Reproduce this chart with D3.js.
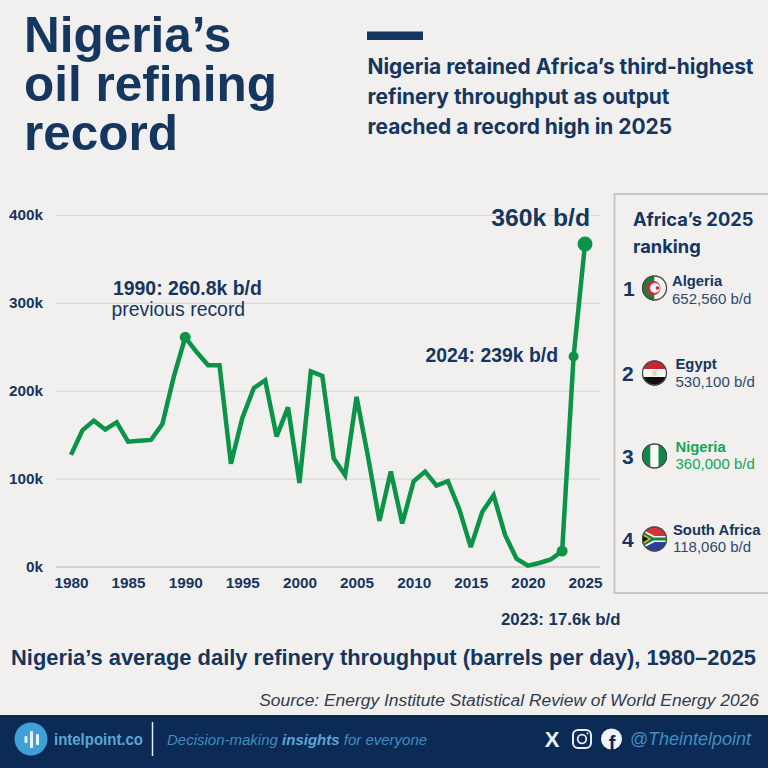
<!DOCTYPE html>
<html>
<head>
<meta charset="utf-8">
<script src="https://cdn.jsdelivr.net/npm/d3@7"></script>
<style>
html,body{margin:0;padding:0;background:#f2f0ee;}
svg{display:block;}
text{font-family:"Liberation Sans",Arial,sans-serif;}
</style>
</head>
<body>
<div id="chart"></div>
<script>
// Nigeria refinery throughput
const years = d3.range(1980, 2026);
const throughput = [127,155,166,156,164,142,143,144,162,216,260.8,244,229,229,117,169,203,212,148,181,95,222,217,123,104,193,125,52,108,49,97,108,92,97,65,22,62,81,36,9,1,4,8,17.6,239,367];
const yTicks = [0,100,200,300,400];
const xTicks = [1980,1985,1990,1995,2000,2005,2010,2015,2020,2025];
const titleLines = ['Nigeria’s','oil refining','record'];
const subtitleLines = ['Nigeria retained Africa’s third-highest','refinery throughput as output','reached a record high in 2025'];
const rankCountries = ['Algeria','Egypt','Nigeria','South Africa'];
const rankValues = ['652,560 b/d','530,100 b/d','360,000 b/d','118,060 b/d'];

const NAVY = '#14365f';
const GREEN = '#0b9347';
const BG = '#f2f0ee';

const svg = d3.select('#chart').append('svg').attr('width', 768).attr('height', 768);
svg.append('rect').attr('width', 768).attr('height', 768).attr('fill', BG);
const defs = svg.append('defs');

// Header
svg.append('g').selectAll('text').data(titleLines).join('text')
    .attr('x', 24).attr('y', (d, i) => 52 + i * 48.75)
    .attr('font-size', 49.5).attr('font-weight', 700).attr('fill', NAVY)
    .text(d => d);
svg.append('rect').attr('x', 367).attr('y', 31.5).attr('width', 56).attr('height', 8.5).attr('fill', NAVY);
svg.append('g').selectAll('text').data(subtitleLines).join('text')
    .attr('x', 367.5).attr('y', (d, i) => 74 + i * 30)
    .attr('font-size', 20.9).attr('font-weight', 700).attr('fill', NAVY)
    .style('font-family', 'Inter, sans-serif')
    .text(d => d);

// Scales
const x = d3.scaleLinear().domain([1980, 2025]).range([71, 585]);
const y = d3.scaleLinear().domain([0, 400]).range([566.5, 215]);
const value = yr => throughput[years.indexOf(yr)];

// Grid and axes
const yAxis = d3.axisLeft(y).tickValues(yTicks).tickFormat(d => d + 'k').tickSize(-544).tickPadding(13);
const yG = svg.append('g').attr('transform', 'translate(56,0)').call(yAxis);
yG.select('.domain').remove();
yG.selectAll('.tick line').attr('stroke', d => d === 0 ? '#b5b5b5' : '#d9d8d6').attr('stroke-width', 1.2);
yG.selectAll('.tick text').attr('font-size', 15.3).attr('font-weight', 700).attr('fill', NAVY)
    .style('font-family', '"Liberation Sans",Arial,sans-serif');

const xAxis = d3.axisBottom(x).tickValues(xTicks).tickFormat(d3.format('d')).tickSize(0).tickPadding(11);
const xG = svg.append('g').attr('transform', 'translate(0,566.5)').call(xAxis);
xG.select('.domain').remove();
xG.selectAll('.tick text').attr('font-size', 15.3).attr('font-weight', 700).attr('fill', NAVY)
    .style('font-family', '"Liberation Sans",Arial,sans-serif');

// Line
const line = d3.line().x((d, i) => x(years[i])).y(d => y(d));
svg.append('path').datum(throughput)
    .attr('d', line).attr('fill', 'none').attr('stroke', GREEN)
    .attr('stroke-width', 4.5).attr('stroke-linejoin', 'miter').attr('stroke-miterlimit', 3);

// Highlight points
const highlights = [[1990, 5.5], [2023, 5.5], [2024, 5], [2025, 7.5]];
svg.append('g').selectAll('circle').data(highlights).join('circle')
    .attr('cx', d => x(d[0])).attr('cy', d => y(value(d[0]))).attr('r', d => d[1]).attr('fill', GREEN);

// Annotations
function note(txt, px, py, size, weight, anchor) {
    return svg.append('text').attr('x', px).attr('y', py).attr('font-size', size)
        .attr('font-weight', weight).attr('fill', NAVY).attr('text-anchor', anchor || 'start').text(txt);
}
note('1990: 260.8k b/d', 113, 295, 19.4, 700);
note('previous record', 111.5, 316, 19.4, 400);
note('360k b/d', 590, 226, 24.7, 700, 'end');
note('2024: 239k b/d', 558, 362, 19.4, 700, 'end');
note('2023: 17.6k b/d', 501, 625, 16.8, 700);
note('Nigeria’s average daily refinery throughput (barrels per day), 1980–2025', 11, 665, 21.9, 700);
svg.append('text').attr('x', 759).attr('y', 706).attr('text-anchor', 'end')
    .attr('font-size', 17.4).attr('font-style', 'italic').attr('fill', '#2f3b4c')
    .text('Source: Energy Institute Statistical Review of World Energy 2026');

// Ranking panel
svg.append('path').attr('d', 'M768,194H614.5V593H768').attr('fill', 'none').attr('stroke', '#c9c7c5').attr('stroke-width', 2);
note('Africa’s 2025', 633, 226, 18.3, 700).style('font-family', 'Inter, sans-serif');
note('ranking', 633, 253, 18.3, 700).style('font-family', 'Inter, sans-serif');

// flags are small drawings inside a circle
const FLAGS = {
    Algeria(g) {
        g.append('rect').attr('x', -13).attr('y', -13).attr('width', 13).attr('height', 26).attr('fill', '#1f7a3f');
        g.append('rect').attr('x', 0).attr('y', -13).attr('width', 13).attr('height', 26).attr('fill', '#f4f4f2');
        g.append('circle').attr('cx', -1).attr('r', 7).attr('fill', '#cf2a36');
        g.append('circle').attr('cx', 0.5).attr('r', 5).attr('fill', '#f4f4f2');
        g.append('circle').attr('cx', 3).attr('r', 1.8).attr('fill', '#cf2a36');
    },
    Egypt(g) {
        g.append('rect').attr('x', -13).attr('y', -13).attr('width', 26).attr('height', 9).attr('fill', '#c8252f');
        g.append('rect').attr('x', -13).attr('y', -4).attr('width', 26).attr('height', 8).attr('fill', '#f6f6f4');
        g.append('rect').attr('x', -13).attr('y', 4).attr('width', 26).attr('height', 9).attr('fill', '#111');
        g.append('rect').attr('x', -2).attr('y', -2.5).attr('width', 4).attr('height', 5).attr('fill', '#e3d3a0');
    },
    Nigeria(g) {
        g.append('rect').attr('x', -13).attr('y', -13).attr('width', 9).attr('height', 26).attr('fill', '#0c8a48');
        g.append('rect').attr('x', -4).attr('y', -13).attr('width', 8).attr('height', 26).attr('fill', '#f8f8f6');
        g.append('rect').attr('x', 4).attr('y', -13).attr('width', 9).attr('height', 26).attr('fill', '#0c8a48');
    },
    'South Africa'(g) {
        g.append('rect').attr('x', -13).attr('y', -13).attr('width', 26).attr('height', 13).attr('fill', '#d3343a');
        g.append('rect').attr('x', -13).attr('y', 0).attr('width', 26).attr('height', 13).attr('fill', '#2d3f9c');
        g.append('path').attr('d', 'M-13,-10L0,-3H13V3H0L-13,10Z').attr('fill', '#f4f4f2');
        g.append('path').attr('d', 'M-13,-8L-1,-1.5H13V1.5H-1L-13,8Z').attr('fill', '#16834a');
        g.append('path').attr('d', 'M-13,-6L-3.5,0L-13,6Z').attr('fill', '#e8b92f');
        g.append('path').attr('d', 'M-13,-4L-6,0L-13,4Z').attr('fill', '#111');
    }
};

const rowY = [288, 373, 456, 539];
const nameX = [672, 675.5, 675.5, 673];
const nameDy = [-2, -4, -4, -4];
const valueDy = [16, 14, 13, 13];
rankCountries.forEach((name, i) => {
    const cy = rowY[i];
    const col = name === 'Nigeria' ? '#14a457' : NAVY;
    note(String(i + 1), i === 0 ? 623 : 622, cy + 7.5, 21, 700);
    defs.append('clipPath').attr('id', 'flag' + i).append('circle').attr('r', 12.5);
    const g = svg.append('g').attr('transform', `translate(654.5,${cy})`);
    FLAGS[name](g.append('g').attr('clip-path', `url(#flag${i})`));
    g.append('circle').attr('r', 12).attr('fill', 'none').attr('stroke', '#4a4a48').attr('stroke-width', 1.3);
    svg.append('text').attr('x', nameX[i]).attr('y', cy + nameDy[i]).attr('font-size', 14.8).attr('font-weight', 700).attr('fill', col).text(name);
    svg.append('text').attr('x', nameX[i]).attr('y', cy + valueDy[i]).attr('font-size', 15).attr('fill', name === 'Nigeria' ? '#14a457' : '#2c4a6e').text(rankValues[i]);
});

// Footer
const FOOT = '#0b2a56';
const BLUE = '#3f9fd6';
svg.append('rect').attr('y', 715).attr('width', 768).attr('height', 53).attr('fill', FOOT);
svg.append('circle').attr('cx', 31).attr('cy', 739).attr('r', 16.5).attr('fill', BLUE);
[[24.5, 736, 3, 7], [30, 731, 3, 17], [36, 734, 3, 11]].forEach(b => {
    svg.append('rect').attr('x', b[0]).attr('y', b[1]).attr('width', b[2]).attr('height', b[3]).attr('rx', 1).attr('fill', '#e8f2f8');
});
svg.append('text').attr('x', 54).attr('y', 745).attr('font-size', 16.5).attr('font-weight', 700).attr('fill', '#5aa7d4')
    .attr('textLength', 89).attr('lengthAdjust', 'spacingAndGlyphs').text('intelpoint.co');
svg.append('line').attr('x1', 152.5).attr('x2', 152.5).attr('y1', 722).attr('y2', 756).attr('stroke', '#e6edf2').attr('stroke-width', 1.5);
const tag = svg.append('text').attr('x', 167).attr('y', 745).attr('font-size', 15).attr('font-style', 'italic').attr('fill', '#3f8fc0');
tag.append('tspan').text('Decision-making ');
tag.append('tspan').attr('font-weight', 700).attr('fill', '#5aa7d4').text('insights');
tag.append('tspan').text(' for everyone');

// Social icons
svg.append('text').attr('x', 552).attr('y', 747).attr('text-anchor', 'middle').attr('font-size', 22).attr('font-weight', 700).attr('fill', '#f1f4f6').text('X');
svg.append('rect').attr('x', 573).attr('y', 730).attr('width', 18).attr('height', 18).attr('rx', 5).attr('fill', 'none').attr('stroke', '#e8ecef').attr('stroke-width', 2);
svg.append('circle').attr('cx', 582).attr('cy', 739).attr('r', 4.3).attr('fill', 'none').attr('stroke', '#e8ecef').attr('stroke-width', 1.8);
svg.append('circle').attr('cx', 587.5).attr('cy', 733.5).attr('r', 1).attr('fill', '#e8ecef');
svg.append('circle').attr('cx', 611.5).attr('cy', 739).attr('r', 10.5).attr('fill', '#f1f4f6');
svg.append('text').attr('x', 612).attr('y', 749.5).attr('text-anchor', 'middle').attr('font-size', 20).attr('font-weight', 700).attr('fill', FOOT).text('f');
svg.append('text').attr('x', 751).attr('y', 745).attr('text-anchor', 'end').attr('font-size', 18).attr('font-style', 'italic').attr('fill', '#3f8fc0').text('@Theintelpoint');
</script>
</body>
</html>
